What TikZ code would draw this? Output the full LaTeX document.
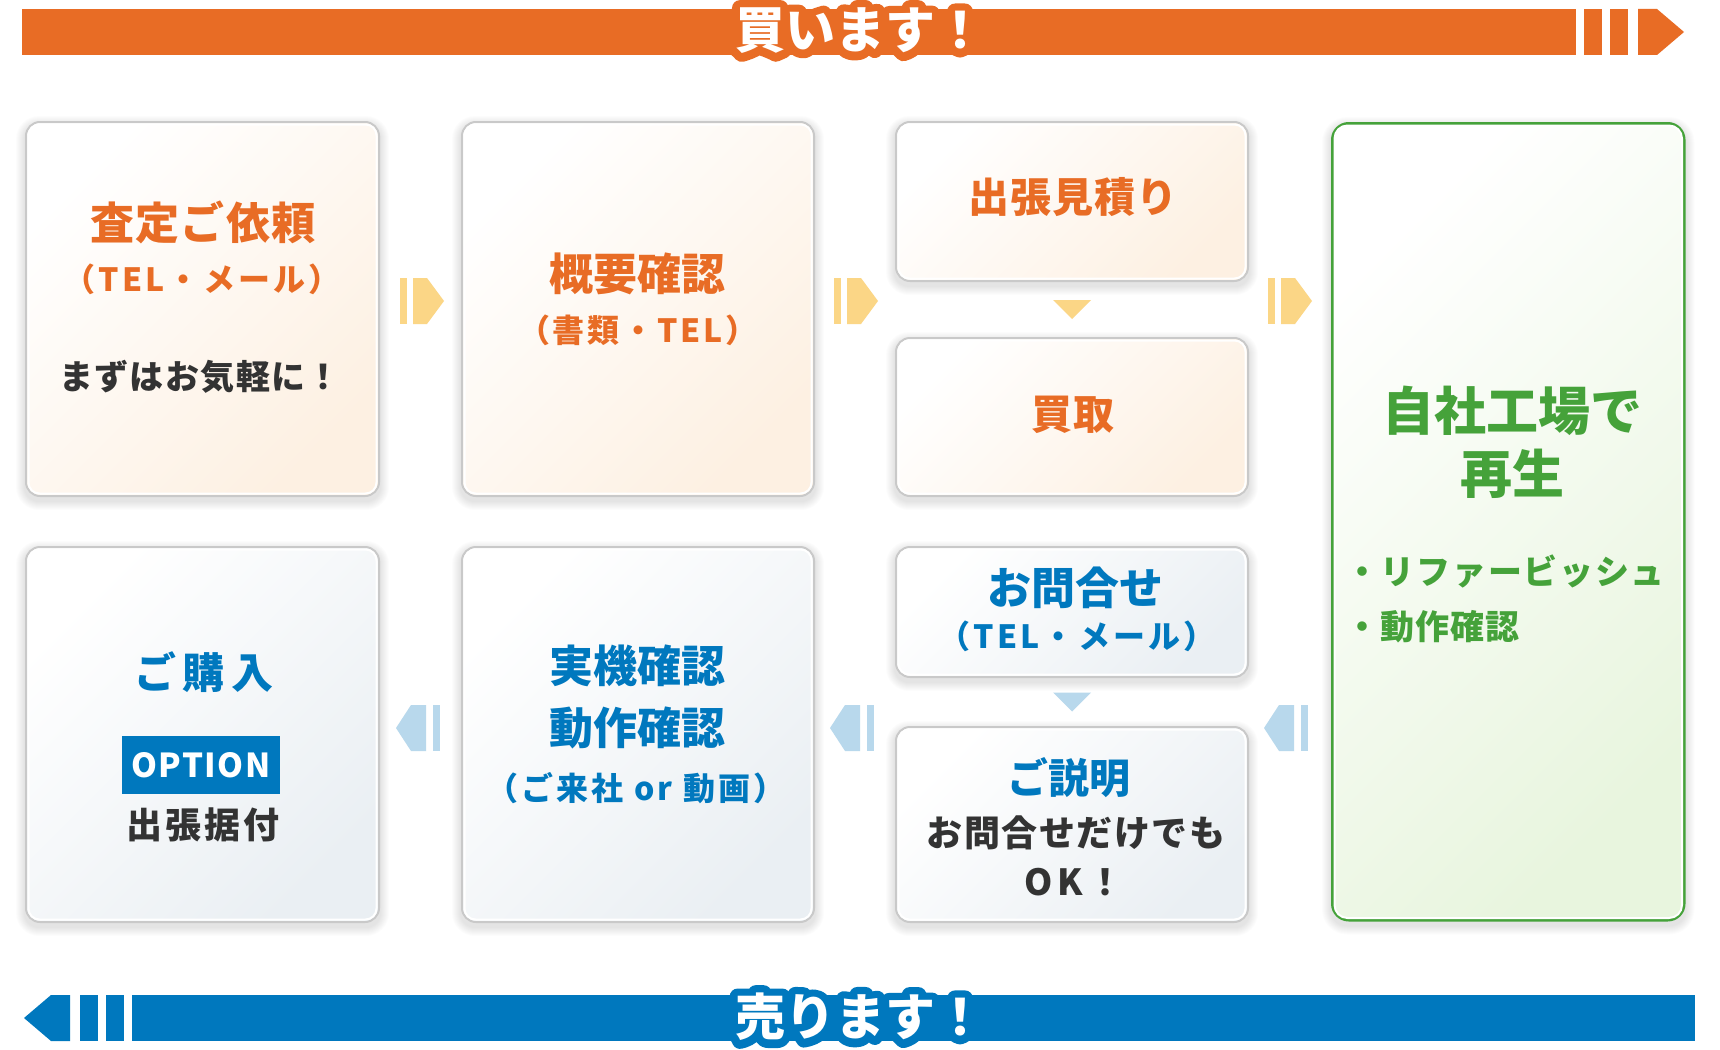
\documentclass[tikz,border=0pt]{standalone}
\usepackage{fontspec}
\setmainfont{Noto Sans CJK JP}
\usetikzlibrary{calc,backgrounds}
\definecolor{org}{HTML}{E86C25}
\definecolor{orgfill}{HTML}{FDF0E2}
\definecolor{blu}{HTML}{0078BE}
\definecolor{blufill}{HTML}{EAEFF3}
\definecolor{grn}{HTML}{45A23A}
\definecolor{grnfill}{HTML}{E8F5DE}
\definecolor{ylw}{HTML}{FBD686}
\definecolor{lblu}{HTML}{B8D8EC}
\definecolor{dark}{HTML}{333333}
\definecolor{bord}{HTML}{C9C9C9}
\newcommand{\ls}[1]{\addfontfeature{LetterSpace=#1}}
\tikzset{
  fs/.style={font=\bfseries\fontsize{#1}{#1}\selectfont, inner sep=0pt},
  card/.style={draw=bord, line width=2pt, rounded corners=14pt, anchor=north west, inner sep=0pt},
  ocard/.style={card, top color=white, bottom color=orgfill, shading angle=45},
  bcard/.style={card, top color=white, bottom color=blufill, shading angle=45},
  gcard/.style={card, draw=grn, line width=3.5pt, rounded corners=16pt, top color=white, bottom color=grnfill, shading angle=45},
  otxt/.style={fs=#1, text=org},
  btxt/.style={fs=#1, text=blu},
  gtxt/.style={fs=#1, text=grn},
  dtxt/.style={fs=#1, text=dark},
  halo/.style={font=\bfseries\fontsize{50}{50}\selectfont\addfontfeature{FakeBold=32}, inner sep=0pt},
  pics/rchev/.style={code={
    \fill[ylw] (-22,-23) rectangle (-15,23);
    \fill[ylw] (-9,-23) -- (5,-23) -- (22,0) -- (5,23) -- (-9,23) -- cycle;}},
  pics/lchev/.style={code={
    \fill[lblu] (22,-23) rectangle (15,23);
    \fill[lblu] (8,-23) -- (-7,-23) -- (-22,0) -- (-7,23) -- (8,23) -- cycle;}},
  pics/dtri/.style={code={\fill[#1] (-19,-9.5) -- (19,-9.5) -- (0,9.5) -- cycle;}},
}
\newcommand{\cardshadow}[2][14]{%
  \foreach \s in {1,...,9}{%
    \fill[black, opacity=0.010, rounded corners=(#1+\s)*1pt]
      ($(#2.north west)+(-\s,-\s+4)$) rectangle ($(#2.south east)+(\s,\s+4)$);}}
\newcommand{\cardhl}[2][11]{%
  \draw[white, line width=2pt, rounded corners=#1pt]
    ($(#2.north west)+(3.5,3.5)$) rectangle ($(#2.south east)+(-3.5,-3.5)$);}
\begin{document}
\begin{tikzpicture}[x=1pt,y=-1pt]
\useasboundingbox (0,0) rectangle (1720,1049);

% ---------- top banner ----------
\fill[org] (22,9) rectangle (1576,55);
\fill[org] (1584,9) rectangle (1602,55);
\fill[org] (1610,9) rectangle (1628,55);
\fill[org] (1638,9) -- (1657,9) -- (1684,32) -- (1657,55) -- (1638,55) -- cycle;
\node[halo, text=org] (buyhalo) at (860,31) {\special{pdf:literal direct 1 j 1 J}買います！};
\node[fs=50, text=white] (buy) at (860,31) {買います！};

% ---------- bottom banner ----------
\fill[blu] (24,1018) -- (51,995) -- (70,995) -- (70,1041) -- (51,1041) -- cycle;
\fill[blu] (80,995) rectangle (98,1041);
\fill[blu] (106,995) rectangle (124,1041);
\fill[blu] (132,995) rectangle (1695,1041);
\node[halo, text=blu] (sellhalo) at (860,1017) {\special{pdf:literal direct 1 j 1 J}売ります！};
\node[fs=50, text=white] (sell) at (860,1017) {売ります！};

% ---------- cards ----------
\node[ocard, minimum width=353pt, minimum height=374pt] (A) at (25,121) {};
\node[ocard, minimum width=352pt, minimum height=374pt] (B) at (461,121) {};
\node[ocard, minimum width=352pt, minimum height=159pt] (C) at (895,121) {};
\node[ocard, minimum width=352pt, minimum height=158pt] (D) at (895,337) {};
\node[gcard, minimum width=351pt, minimum height=796pt] (E) at (1331,122) {};
\node[bcard, minimum width=353pt, minimum height=375pt] (F) at (25,546) {};
\node[bcard, minimum width=352pt, minimum height=375pt] (G) at (461,546) {};
\node[bcard, minimum width=352pt, minimum height=130pt] (H) at (895,546) {};
\node[bcard, minimum width=352pt, minimum height=195pt] (I) at (895,726) {};

\foreach \n in {A,B,C,D,F,G,H,I}{\cardhl{\n}}
\cardhl[13]{E}

\begin{scope}[on background layer]
  \fill[white] (0,0) rectangle (1720,1049);
  \foreach \n in {A,B,C,D,F,G,H,I}{\cardshadow{\n}}
  \cardshadow[16]{E}
\end{scope}

% ---------- texts ----------
\node[otxt=44] (a1) at (203,222) {\ls{3}査定ご依頼};
\node[otxt=32] (a2) at (202,279) {\ls{10}（TEL・メール）};
\node[dtxt=34] (a3) at (200,377) {\ls{4}まずはお気軽に！};

\node[otxt=44] (b1) at (637,274) {概要確認};
\node[otxt=32] (b2) at (638,330) {\ls{9}（書類・TEL）};

\node[otxt=41] (c1) at (1073,197) {\ls{2}出張見積り};
\node[otxt=41] (d1) at (1073,415) {\ls{2}買取};

\node[gtxt=52] (e1) at (1512,411) {自社工場で};
\node[gtxt=52] (e2) at (1512,474) {再生};
\node[gtxt=34, anchor=west] (e3) at (1345,571) {\ls{5}・リファービッシュ};
\node[gtxt=34, anchor=west] (e4) at (1345,627) {\ls{3}・動作確認};

\node[btxt=42] (f1) at (204,672) {\ls{15}ご購入};
\node[fill=blu, minimum width=158pt, minimum height=58pt, inner sep=0pt] (opt) at (201,765) {};
\node[fs=33, text=white] (f2) at (opt.center) {\ls{4}OPTION};
\node[dtxt=36] (f3) at (203,825) {\ls{8}出張据付};

\node[btxt=44] (g1) at (637,666) {実機確認};
\node[btxt=44] (g2) at (637,728) {動作確認};
\node[btxt=32] (g3) at (636,788) {\ls{10}（ご来社 or 動画）};

\node[btxt=44] (h1) at (1075,588) {お問合せ};
\node[btxt=32] (h2) at (1077,636) {\ls{10}（TEL・メール）};

\node[btxt=41] (i1) at (1069,778) {ご説明};
\node[dtxt=36] (i2) at (1076,833) {\ls{4}お問合せだけでも};
\node[dtxt=36] (i3) at (1074,882) {\ls{12}OK！};

% ---------- step markers between cards ----------
\coordinate (ab) at (422,301);
\coordinate (bc) at (856,301);
\coordinate (de) at (1290,301);
\pic at (ab) {rchev};
\pic at (bc) {rchev};
\pic at (de) {rchev};
\coordinate (cd) at ($(C.south)!0.5!(D.north)$);
\pic at (cd) {dtri=ylw};

\coordinate (ei) at (1286,728);
\coordinate (hg) at (852,728);
\coordinate (gf) at (418,728);
\pic at (ei) {lchev};
\pic at (hg) {lchev};
\pic at (gf) {lchev};
\coordinate (hi) at ($(H.south)!0.5!(I.north)$);
\pic at (hi) {dtri=lblu};
\end{tikzpicture}
\end{document}
